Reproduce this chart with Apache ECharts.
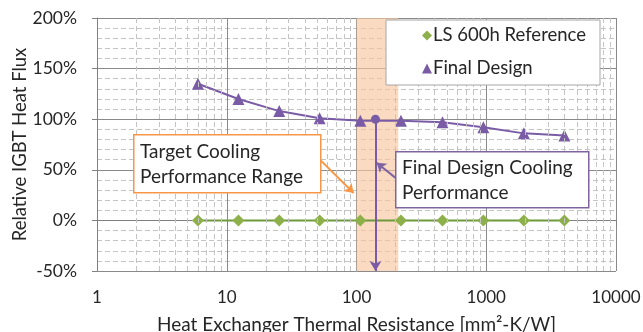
<!DOCTYPE html>
<html><head><meta charset="utf-8">
<script src="https://cdn.jsdelivr.net/npm/echarts@6/dist/echarts.min.js"></script>
<style>html,body{margin:0;padding:0;background:#fff}#c{width:643px;height:332px}</style>
</head><body><div id="c"></div>
<script>
const resistance = [6, 12.3, 25.4, 52, 107, 220, 460, 950, 1950, 4000];
const referenceFlux = [0, 0, 0, 0, 0, 0, 0, 0, 0, 0];
const finalDesignFlux = [135, 120, 108, 101, 98.5, 98.5, 97, 92, 86, 84];
const finalDesignPoint = [140, 100];
const targetRange = [100, 210];
const yRange = [-50, 200];
const xRange = [1, 10000];
const seriesNames = ['LS 600h Reference', 'Final Design'];
const noteTarget = 'Target Cooling\nPerformance Range';
const noteFinal = 'Final Design Cooling\nPerformance';
const targetArrow = [[52.7, 59.6], [95, 27]];
const finalArrow = [[200, 42], [143, 57]];

const FONT = 'Lato';
const minorX = [];
for (let d = 1; d < 10000; d *= 10) for (let k = 2; k <= 9; k++) minorX.push(d * k);

const chart = echarts.init(document.getElementById('c'));
chart.setOption({
  animation: false,
  textStyle: { fontFamily: FONT },
  grid: { left: 97, right: 27, top: 18, bottom: 61, containLabel: false, outerBoundsMode: 'none' },
  legend: {
    orient: 'vertical', left: 386, top: 20,
    backgroundColor: '#fff', borderColor: '#a6a6a6', borderWidth: 1,
    padding: [6, 14, 7, 36], itemGap: 14, itemWidth: 10, itemHeight: 10,
    textStyle: { fontFamily: FONT, fontSize: 18.5, color: '#262626', padding: [0, 0, 0, -4] },
    data: [{ name: seriesNames[0], icon: 'diamond' }, { name: seriesNames[1], icon: 'triangle' }],
    z: 10
  },
  xAxis: {
    type: 'log', logBase: 10, min: xRange[0], max: xRange[1],
    name: 'Heat Exchanger Thermal Resistance [mm²-K/W]', nameLocation: 'middle', nameGap: 44,
    nameMoveOverlap: false,
    nameTextStyle: { fontFamily: FONT, fontSize: 19, color: '#262626' },
    axisLine: { lineStyle: { color: '#808080' } },
    axisTick: { show: true, length: 5, lineStyle: { color: '#808080' } },
    axisLabel: { fontFamily: FONT, fontSize: 17, color: '#262626', margin: 18, formatter: v => String(Math.round(v)) },
    splitLine: { show: true, lineStyle: { color: '#8a8a8a', width: 1 } }
  },
  yAxis: {
    type: 'value', min: yRange[0], max: yRange[1], interval: 50,
    name: 'Relative IGBT Heat Flux', nameLocation: 'middle', nameGap: 67,
    nameMoveOverlap: false,
    nameTextStyle: { fontFamily: FONT, fontSize: 18.5, color: '#262626' },
    axisLine: { show: true, lineStyle: { color: '#808080' } },
    axisTick: { show: true, length: 5, lineStyle: { color: '#808080' } },
    axisLabel: { fontFamily: FONT, fontSize: 17.5, color: '#262626', margin: 20, formatter: v => v + '%' },
    splitLine: { show: true, lineStyle: { color: '#8a8a8a', width: 1 } },
    minorTick: { show: false, splitNumber: 5 },
    minorSplitLine: { show: true, lineStyle: { color: '#c4c4c4', type: [5, 3], width: 1 } }
  },
  series: [
    {
      type: 'line', name: '_bg', data: [], z: 1, silent: true,
      markArea: { silent: true, itemStyle: { color: 'rgba(248,200,160,0.65)' },
        data: [[{ xAxis: targetRange[0], yAxis: yRange[0] }, { xAxis: targetRange[1], yAxis: yRange[1] }]] },
      markLine: { silent: true, symbol: 'none', label: { show: false },
        lineStyle: { color: '#c4c4c4', type: [5, 3], width: 1 },
        data: minorX.map(v => ({ xAxis: v })) }
    },
    {
      type: 'line', name: seriesNames[0], z: 3,
      data: resistance.map((x, i) => [x, referenceFlux[i]]),
      symbol: 'diamond', symbolSize: 12,
      itemStyle: { color: '#8db04a' },
      lineStyle: { color: '#6e9a3b', width: 2 }
    },
    {
      type: 'line', name: seriesNames[1], z: 4,
      data: resistance.map((x, i) => [x, finalDesignFlux[i]]),
      symbol: 'triangle', symbolSize: 12,
      itemStyle: { color: '#7a5ca6' },
      lineStyle: { color: '#7a5ca6', width: 2 },
      markLine: {
        silent: true, label: { show: false }, symbolSize: [9, 10],
        lineStyle: { color: '#7a5ca6', width: 2, type: 'solid' },
        data: [[{ coord: finalDesignPoint, symbol: 'circle' }, { coord: [finalDesignPoint[0], yRange[0]], symbol: 'arrow' }]]
      }
    },
    {
      type: 'line', name: '_notes', data: [], z: 6, silent: true,
      markLine: {
        silent: true, label: { show: false }, symbol: ['none', 'arrow'], symbolSize: 9,
        data: [
          [{ coord: targetArrow[0], lineStyle: { color: '#f79646', width: 2, type: 'solid' } }, { coord: targetArrow[1] }],
          [{ coord: finalArrow[0], lineStyle: { color: '#8064a2', width: 2, type: 'solid' } }, { coord: finalArrow[1] }]
        ]
      }
    }
  ],
  graphic: [
    { type: 'rect', left: 133, top: 134, z: 20, shape: { width: 187, height: 58 },
      style: { fill: '#fff', stroke: '#f79646', lineWidth: 1.5 } },
    { type: 'text', left: 140, top: 139, z: 21,
      style: { text: noteTarget, font: '19px ' + FONT, fill: '#262626', lineHeight: 25 } },
    { type: 'rect', left: 395, top: 151, z: 20, shape: { width: 193, height: 56 },
      style: { fill: '#fff', stroke: '#8064a2', lineWidth: 1.5 } },
    { type: 'text', left: 402, top: 155, z: 21,
      style: { text: noteFinal, font: '19px ' + FONT, fill: '#262626', lineHeight: 25 } }
  ]
});
</script></body></html>
